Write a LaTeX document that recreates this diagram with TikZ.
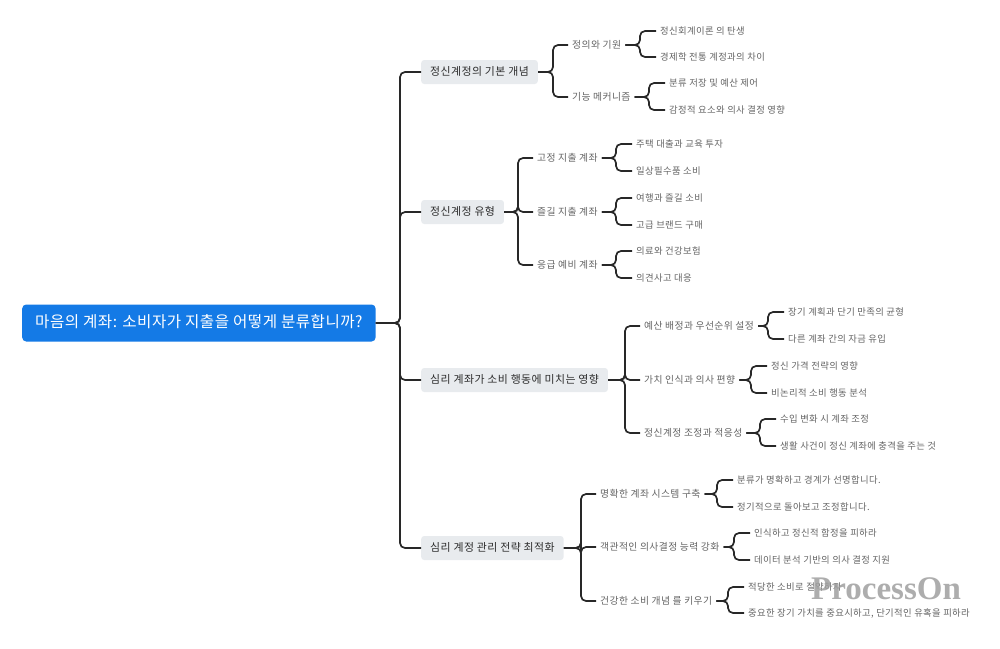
\documentclass[tikz,border=0pt]{standalone}
\usepackage{fontspec}
\setmainfont[LetterSpace=4]{Noto Sans CJK KR}
\newfontfamily\rootfont[LetterSpace=3]{Noto Sans CJK KR}
\newfontfamily\wmfont{Liberation Serif}
\usetikzlibrary{calc}
\definecolor{rootblue}{RGB}{20,122,230}
\definecolor{boxgray}{RGB}{232,235,238}
\definecolor{txtdark}{RGB}{45,45,45}
\definecolor{txtgray}{RGB}{100,100,100}
\definecolor{linecol}{RGB}{40,40,40}
\tikzset{
  rootbox/.style={fill=rootblue, text=white, rounded corners=4pt, font=\rootfont\fontsize{15.6}{18}\selectfont, inner xsep=13pt, text height=11pt, text depth=3pt, inner ysep=11.5pt, anchor=west},
  lvone/.style={fill=boxgray, text=txtdark, rounded corners=3pt, font=\fontsize{10.9}{12}\selectfont, inner xsep=9pt, text height=8pt, text depth=2pt, inner ysep=7pt, anchor=west},
  lvtwo/.style={text=txtgray, font=\fontsize{9.8}{11}\selectfont, inner xsep=4pt, inner ysep=2pt, anchor=west},
  leaf/.style={text=txtgray, font=\fontsize{9.35}{11}\selectfont, inner xsep=4pt, inner ysep=2pt, anchor=west},
  conn/.style={draw=linecol, line width=1.7pt, rounded corners=5pt},
  wmark/.style={text=gray!75, opacity=0.85, font=\wmfont\bfseries\fontsize{33}{35}\selectfont, anchor=west, inner sep=0pt}
}
\begin{document}
\begin{tikzpicture}[x=1pt,y=-1pt]
\useasboundingbox (0,0) rectangle (1000,648);
% root
\node[rootbox] (R) at (22,323) {마음의 계좌: 소비자가 지출을 어떻게 분류합니까?};
% level 1
\node[lvone] (A) at (421,72) {정신계정의 기본 개념};
\node[lvone] (B) at (421,212) {정신계정 유형};
\node[lvone] (C) at (421,380) {심리 계좌가 소비 행동에 미치는 영향};
\node[lvone] (D) at (421,548) {심리 계정 관리 전략 최적화};
% level 2
\node[lvtwo] (A1) at (568,45) {정의와 기원};
\node[lvtwo] (A2) at (568,97) {기능 메커니즘};
\node[lvtwo] (B1) at (533,158) {고정 지출 계좌};
\node[lvtwo] (B2) at (533,212) {즐길 지출 계좌};
\node[lvtwo] (B3) at (533,265) {응급 예비 계좌};
\node[lvtwo] (C1) at (640,326) {예산 배정과 우선순위 설정};
\node[lvtwo] (C2) at (640,380) {가치 인식과 의사 편향};
\node[lvtwo] (C3) at (640,433) {정신계정 조정과 적응성};
\node[lvtwo] (D1) at (596,494) {명확한 계좌 시스템 구축};
\node[lvtwo] (D2) at (596,547) {객관적인 의사결정 능력 강화};
\node[lvtwo] (D3) at (596,601) {건강한 소비 개념 를 키우기};
% leaves
\node[leaf] (A1a) at (656,31) {정신회계이론 의 탄생};
\node[leaf] (A1b) at (656,57) {경제학 전통 계정과의 차이};
\node[leaf] (A2a) at (665,83) {분류 저장 및 예산 제어};
\node[leaf] (A2b) at (665,110) {감정적 요소와 의사 결정 영향};
\node[leaf] (B1a) at (632,144) {주택 대출과 교육 투자};
\node[leaf] (B1b) at (632,171) {일상필수품 소비};
\node[leaf] (B2a) at (632,198) {여행과 즐길 소비};
\node[leaf] (B2b) at (632,225) {고급 브랜드 구매};
\node[leaf] (B3a) at (632,251) {의료와 건강보험};
\node[leaf] (B3b) at (632,278) {의견사고 대응};
\node[leaf] (C1a) at (784,312) {장기 계획과 단기 만족의 균형};
\node[leaf] (C1b) at (784,339) {다른 계좌 간의 자금 유입};
\node[leaf] (C2a) at (767,366) {정신 가격 전략의 영향};
\node[leaf] (C2b) at (767,393) {비논리적 소비 행동 분석};
\node[leaf] (C3a) at (776,419) {수입 변화 시 계좌 조정};
\node[leaf] (C3b) at (776,446) {생활 사건이 정신 계좌에 충격을 주는 것};
\node[leaf] (D1a) at (733,480) {분류가 명확하고 경계가 선명합니다.};
\node[leaf] (D1b) at (733,507) {정기적으로 돌아보고 조정합니다.};
\node[leaf] (D2a) at (750,533) {인식하고 정신적 함정을 피하라};
\node[leaf] (D2b) at (750,560) {데이터 분석 기반의 의사 결정 지원};
\node[leaf] (D3a) at (744,587) {적당한 소비로 절약하자};
\node[leaf] (D3b) at (744,613) {중요한 장기 가치를 중요시하고, 단기적인 유혹을 피하라};
% connectors root -> level 1
\foreach \c in {A,B,C,D}
  \draw[conn] (R.east) -| ([xshift=-21pt]\c.west) -- (\c.west);
% level 1 -> level 2
\foreach \p/\c in {A/A1,A/A2,B/B1,B/B2,B/B3,C/C1,C/C2,C/C3,D/D1,D/D2,D/D3}
  \draw[conn] (\p.east) -| ([xshift=-15pt]\c.west) -- (\c.west);
% level 2 -> leaves
\foreach \p in {A1,A2,B1,B2,B3,C1,C2,C3,D1,D2,D3}{
  \draw[conn] (\p.east) -| ([xshift=-16pt]\p a.west) -- (\p a.west);
  \draw[conn] (\p.east) -| ([xshift=-16pt]\p b.west) -- (\p b.west);
}
% watermark
\node[wmark] (W) at (811,589) {ProcessOn};
\end{tikzpicture}
\end{document}
